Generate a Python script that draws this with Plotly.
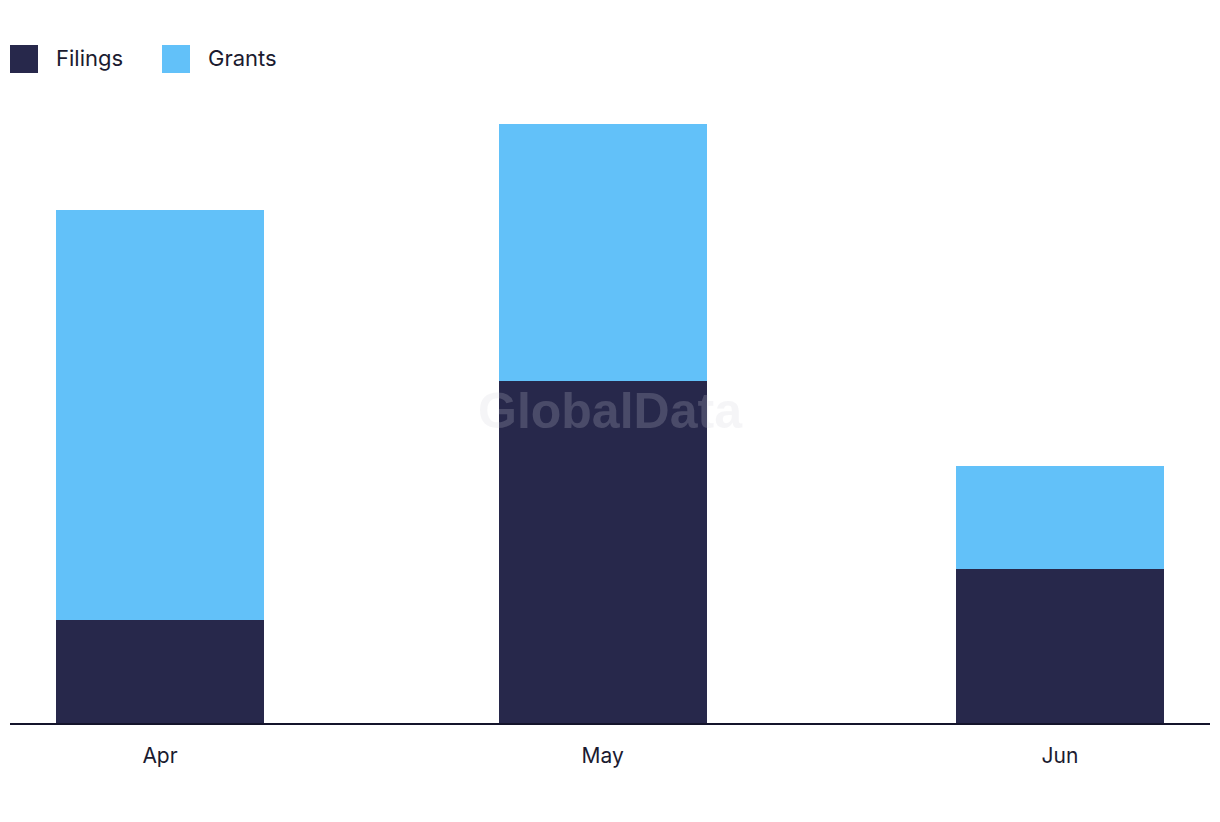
import plotly.graph_objects as go

months = ["2024-04-01", "2024-05-01", "2024-06-01"]
tick_labels = ["Apr", "May", "Jun"]
filings = [6, 20, 9]
grants = [24, 15, 6]

FILINGS_COLOR = "#27284B"
GRANTS_COLOR = "#62C1F9"
TEXT_COLOR = "#1B1B30"
FONT = "Inter, Lato, Arial, sans-serif"
DAY_MS = 86400000
bar_width = 14.1 * DAY_MS

fig = go.Figure()
fig.add_trace(go.Bar(x=months, y=filings, name="Filings", marker_color=FILINGS_COLOR,
                     width=[bar_width] * 3, marker_line_width=0))
fig.add_trace(go.Bar(x=months, y=grants, name="Grants", marker_color=GRANTS_COLOR,
                     width=[bar_width] * 3, marker_line_width=0))

fig.update_layout(
    barmode="stack",
    width=1220, height=822,
    margin=dict(l=10, r=10, t=100, b=99),
    paper_bgcolor="white", plot_bgcolor="white",
    showlegend=False,
    font=dict(family=FONT, color=TEXT_COLOR, size=20),
)
fig.update_xaxes(
    type="date",
    range=["2024-03-21 20:00", "2024-06-11 04:00"],
    tickvals=months, ticktext=tick_labels,
    showgrid=False, zeroline=False,
    showline=True, linecolor="#14142B", linewidth=2,
    ticks="outside", ticklen=13, tickcolor="rgba(0,0,0,0)",
    tickfont=dict(size=21, color=TEXT_COLOR, family=FONT),
)
fig.update_yaxes(range=[0, 36.4], visible=False, showgrid=False)

# Legend drawn manually (large square swatches)
legend_items = [("Filings", FILINGS_COLOR, 10), ("Grants", GRANTS_COLOR, 162)]
for name, color, x0 in legend_items:
    fig.add_shape(type="rect", xref="paper", yref="paper",
                  x0=(x0 - 10) / 1200, x1=(x0 + 28 - 10) / 1200,
                  y0=(723 - 73) / 623, y1=(723 - 45) / 623,
                  fillcolor=color, line_width=0)
    fig.add_annotation(text=name, xref="paper", yref="paper",
                       x=(x0 + 44 - 10) / 1200, y=(723 - 58) / 623,
                       xanchor="left", yanchor="middle", showarrow=False,
                       font=dict(size=22, color=TEXT_COLOR, family=FONT))

# Watermark
fig.add_annotation(text="<b>GlobalData</b>", xref="paper", yref="paper",
                   x=(610 - 10) / 1200, y=(723 - 411) / 623,
                   xanchor="center", yanchor="middle", showarrow=False,
                   font=dict(size=50, color="rgba(207,207,215,0.21)",
                             family="Liberation Sans, Arial, sans-serif"))

fig.write_html("out.html")
